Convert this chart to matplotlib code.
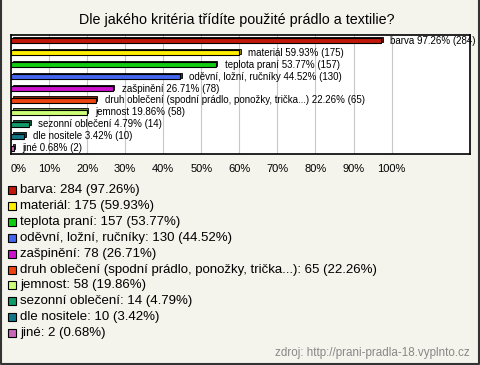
import matplotlib
matplotlib.use('Agg')
import matplotlib.pyplot as plt
from matplotlib.patches import Rectangle
import matplotlib.colors as mcolors

plt.rcParams['font.family'] = ['Liberation Sans', 'DejaVu Sans']

# data
names = ['barva', 'materiál', 'teplota praní', 'oděvní, ložní, ručníky', 'zašpinění',
         'druh oblečení (spodní prádlo, ponožky, trička...)', 'jemnost',
         'sezonní oblečení', 'dle nositele', 'jiné']
counts = [284, 175, 157, 130, 78, 65, 58, 14, 10, 2]
percents = [97.26, 59.93, 53.77, 44.52, 26.71, 22.26, 19.86, 4.79, 3.42, 0.68]
colors = ['#c0190c', '#ffee00', '#11cc11', '#4466ee', '#cc11cc',
          '#ee4411', '#ccff77', '#119966', '#117788', '#cc66bb']
ticks = [0, 10, 20, 30, 40, 50, 60, 70, 80, 90, 100]
title = 'Dle jakého kritéria třídíte použité prádlo a textilie?'
source = 'zdroj: http://prani-pradla-18.vyplnto.cz'

W, H = 480, 365
bg = '#f4f4ec'
fig = plt.figure(figsize=(W / 100, H / 100), dpi=100)
fig.patch.set_facecolor(bg)

# pixel canvas for frame, title, legend
base = fig.add_axes([0, 0, 1, 1])
base.set_xlim(0, W)
base.set_ylim(H, 0)
base.axis('off')
base.plot([1, 1, W - 1.5, W - 1.5], [0, H - 1.5, H - 1.5, 0], color='#333333', lw=1.5)
base.text(237, 20, title, ha='center', va='center', fontsize=10.3)

# bar chart
ax = fig.add_axes([11 / W, 1 - 154 / H, 459 / W, 119 / H])
ax.set_facecolor('white')
ax.set_xlim(0, 120.6)
ax.set_ylim(len(names) - 0.5, -0.5)
for s in ax.spines.values():
    s.set_linewidth(1.2)
    s.set_color('black')
for t in ticks:
    ax.axvline(t, color='#c8c8c8', lw=0.8, zorder=0)

px = 120.6 / 459
dx = 1.6 * px
dy = 0.13
h = 0.42
for i, (p, c) in enumerate(zip(percents, colors)):
    dark = [v * 0.55 for v in mcolors.to_rgb(c)]
    ax.add_patch(Rectangle((dx, i - h / 2 - dy), p, h, facecolor=dark,
                           edgecolor='black', lw=0.6, zorder=2))
    ax.add_patch(Rectangle((0, i - h / 2), p, h, facecolor=c,
                           edgecolor='black', lw=0.8, zorder=3))
    ax.text(p + 9 * px, i, f'{names[i]} {p:.2f}% ({counts[i]})',
            va='center', ha='left', fontsize=7, zorder=4)

ax.set_yticks([])
ax.set_xticks(ticks)
ax.set_xticklabels([f'{t}%' for t in ticks], fontsize=8)
ax.tick_params(axis='x', length=0, pad=7)
ax.get_xticklabels()[0].set_ha('left')

# legend
y0, step = 190, 15.9
for i, (n, c, p, c2) in enumerate(zip(names, counts, percents, colors)):
    y = y0 + i * step
    base.add_patch(Rectangle((8, y - 4), 8, 8, facecolor=c2, edgecolor='black', lw=0.8))
    base.text(20, y, f'{n}: {c} ({p:.2f}%)', va='center', ha='left', fontsize=9.5)

base.text(470, 353, source, ha='right', va='center', fontsize=8.4, color='#888888')

fig.savefig('out.png', dpi=100, facecolor=bg)
